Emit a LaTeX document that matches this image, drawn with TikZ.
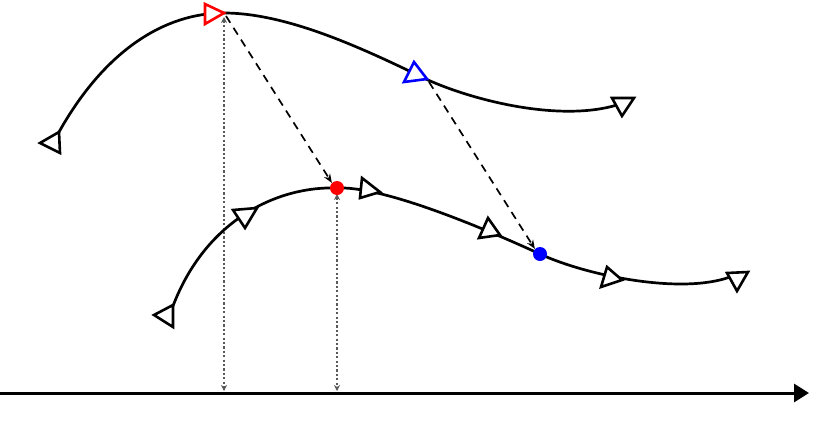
\documentclass[tikz,border=0pt]{standalone}
\usetikzlibrary{arrows.meta}
\begin{document}
\begin{tikzpicture}[x=1pt,y=-1pt,
  curve/.style={line width=2.7pt, line join=round},
  tri/.style={line width=2.6pt, line join=miter, fill=white},
  proj/.style={line width=1.7pt, dash pattern=on 8pt off 6pt, -{Stealth[length=9pt,width=7pt]}},
  vline/.style={line width=2pt, draw=black!65, dash pattern=on 2.2pt off 2.2pt, {Stealth[length=6pt,width=6pt]}-{Stealth[length=6pt,width=6pt]}},
  dotmark/.style={circle, inner sep=0pt, minimum size=14pt}]
\useasboundingbox (0,0) rectangle (833,426);
% axis
\coordinate (a0) at (0,393);
\coordinate (a1) at (809,393);
\draw[line width=3pt, -{Triangle[length=15pt,width=18pt]}] (a0) -- (a1);
% vertical dotted projections
\coordinate (p1t) at (224,17);
\coordinate (p1b) at (224,391);
\coordinate (p2t) at (337,194);
\coordinate (p2b) at (337,391);
\draw[vline] (p1t) -- (p1b);
\draw[vline] (p2t) -- (p2b);
% top curve
\draw[curve] (59,132) .. controls (105,50) and (165,13) .. (224,13)
  .. controls (290,13) and (370,52) .. (428,80)
  .. controls (475,101) and (560,122) .. (617,105);
% lower curve
\draw[curve] (173,306) .. controls (205,222) and (275,186) .. (337,188)
  .. controls (380,186) and (470,222) .. (540,254)
  .. controls (585,275) and (680,295) .. (730,277);
% triangles on top curve
\draw[tri] (40,143) -- (59,132) -- (60,153) -- cycle;
\draw[tri, draw=red] (205,4) -- (205,24) -- (224,13) -- cycle;
\draw[tri, draw=blue] (404,82) -- (414,62) -- (427,79) -- cycle;
\draw[tri] (612,98) -- (634,98) -- (622,116) -- cycle;
% triangles on lower curve
\draw[tri] (154,315) -- (173,305) -- (173,327) -- cycle;
\draw[tri] (233,210) -- (257,208) -- (245,228) -- cycle;
\draw[tri] (362,178) -- (380,192) -- (360,198) -- cycle;
\draw[tri] (488,218) -- (500,235) -- (479,238) -- cycle;
\draw[tri] (607,267) -- (622,280) -- (601,287) -- cycle;
\draw[tri] (727,273) -- (748,272) -- (737,291) -- cycle;
% dots
\node[dotmark, fill=red] (rd) at (337,188) {};
\node[dotmark, fill=blue] (bd) at (540,254) {};
% dashed projections
\coordinate (s1) at (226,16);
\coordinate (s2) at (429,82);
\draw[proj] (s1) -- (rd.north west);
\draw[proj] (s2) -- (bd.north west);
\end{tikzpicture}
\end{document}
